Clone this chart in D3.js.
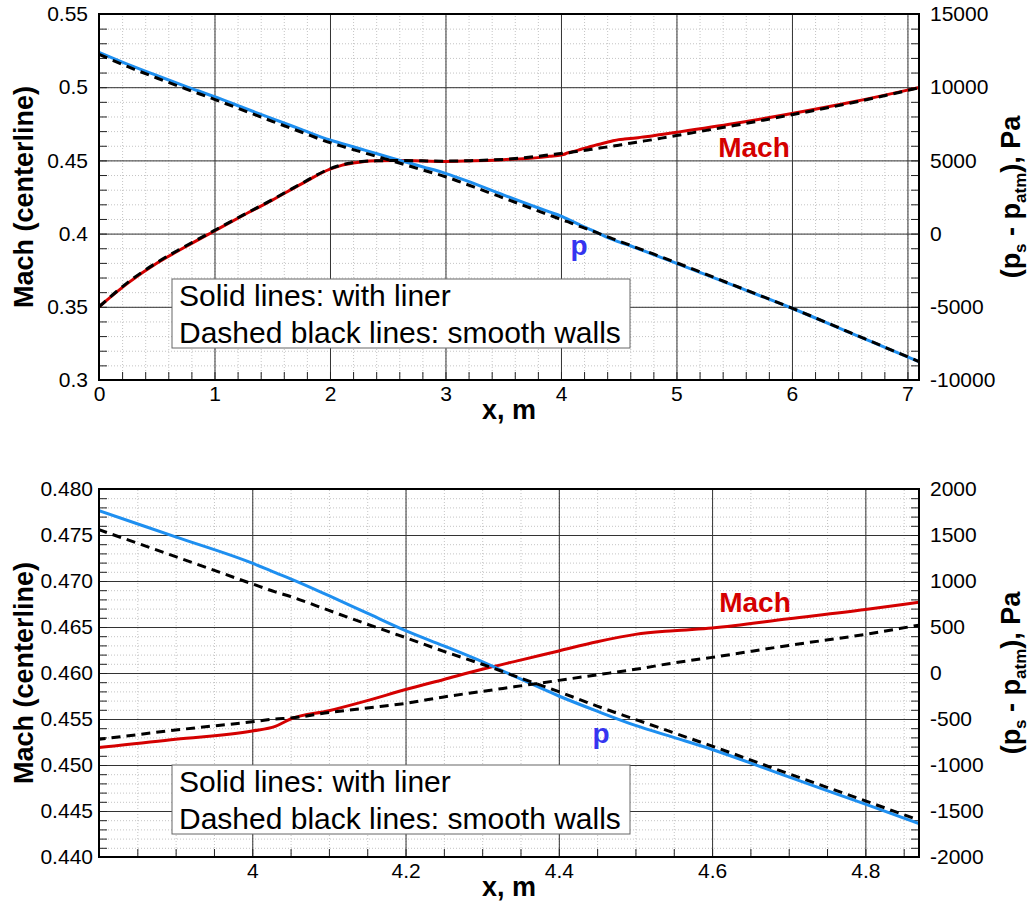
<!DOCTYPE html>
<html>
<head>
<meta charset="utf-8">
<script src="https://cdn.jsdelivr.net/npm/d3@7"></script>
<style>
  body { margin: 0; background: #fff; }
  svg { display: block; font-family: "Liberation Sans", Arial, sans-serif; }
</style>
</head>
<body>
<svg width="1033" height="903"></svg>
<script>
// x position along the duct, m
var xs = [0, 0.25, 0.5, 0.75, 1, 1.25, 1.5, 1.75, 2, 2.1, 2.2, 2.3, 2.4, 2.6, 2.8, 3, 3.25, 3.5,
  3.8, 3.9, 4.0, 4.03, 4.05, 4.1, 4.15, 4.2, 4.25, 4.3, 4.35, 4.4, 4.45, 4.5, 4.55, 4.6,
  4.7, 4.8, 4.87, 5, 5.5, 6, 6.5, 7, 7.1];

// centerline Mach, with liner (solid red) and smooth walls (dashed)
var machLiner = [0.350, 0.3662, 0.3797, 0.3910, 0.4018, 0.4125, 0.4229, 0.4338, 0.4440, 0.4466,
  0.4482, 0.4493, 0.4497, 0.4499, 0.4496, 0.4493, 0.4497, 0.4505, 0.4519, 0.4528, 0.4537, 0.4542,
  0.4550, 0.4559, 0.4570, 0.4582, 0.4593, 0.4604, 0.4614, 0.4624, 0.4634, 0.4642, 0.4646, 0.4649,
  0.4659, 0.4669, 0.4677, 0.4692, 0.4752, 0.4820, 0.4895, 0.4980, 0.4998];
var machSmooth = [0.350, 0.3667, 0.3802, 0.3915, 0.4022, 0.4128, 0.4232, 0.4341, 0.4443, 0.4469,
  0.4484, 0.4494, 0.4497, 0.4499, 0.4497, 0.4495, 0.4499, 0.4507, 0.4528, 0.4538, 0.4547, 0.4550,
  0.4551, 0.4557, 0.4562, 0.4567, 0.4574, 0.4580, 0.4586, 0.4592, 0.4598, 0.4604, 0.4611, 0.4617,
  0.4630, 0.4642, 0.4652, 0.4670, 0.4738, 0.4812, 0.4890, 0.4978, 0.4997];

// static pressure minus atmospheric, Pa
var pLiner = [12380, 11560, 10800, 10060, 9350, 8600, 7850, 7120, 6390, 6160, 5930, 5700, 5470,
  5020, 4570, 4117, 3410, 2650, 1764, 1480, 1194, 1090, 1023, 840, 650, 461, 295, 123, -65, -250,
  -415, -570, -700, -831, -1130, -1426, -1636, -2030, -3560, -5100, -6760, -8420, -8750];
var pSmooth = [12250, 11400, 10630, 9890, 9170, 8420, 7670, 6940, 6210, 5975, 5740, 5510, 5280,
  4820, 4350, 3885, 3170, 2440, 1557, 1265, 969, 882, 831, 680, 530, 385, 235, 95, -55, -203,
  -360, -505, -650, -795, -1095, -1390, -1600, -1990, -3540, -5090, -6750, -8410, -8740];

// tick labels
var topXTicks = [0, 1, 2, 3, 4, 5, 6, 7];
var topMachTicks = [0.3, 0.35, 0.4, 0.45, 0.5, 0.55];
var topPTicks = [-10000, -5000, 0, 5000, 10000, 15000];
var botXTicks = [4, 4.2, 4.4, 4.6, 4.8];
var botMachTicks = [0.440, 0.445, 0.450, 0.455, 0.460, 0.465, 0.470, 0.475, 0.480];
var botPTicks = [-2000, -1500, -1000, -500, 0, 500, 1000, 1500, 2000];

var legendLines = ["Solid lines: with liner", "Dashed black lines: smooth walls"];

var svg = d3.select("svg");
var left = 99, right = 919;

var panels = [
  { top: 14, bottom: 380, xDomain: [0, 7.1], machDomain: [0.3, 0.55], pDomain: [-10000, 15000],
    xTicks: topXTicks, machTicks: topMachTicks, pTicks: topPTicks,
    xMinorStep: 0.2, machMinorStep: 0.01, pMinorStep: 1000,
    machFmt: function(d) { return String(+d.toFixed(2)); }, leftPad: 11,
    legendTop: 279, machLabel: [754, 157], pLabel: [579, 255] },
  { top: 489, bottom: 857, xDomain: [3.8, 4.87], machDomain: [0.44, 0.48], pDomain: [-2000, 2000],
    xTicks: botXTicks, machTicks: botMachTicks, pTicks: botPTicks,
    xMinorStep: 0.05, machMinorStep: 0.001, pMinorStep: 100,
    machFmt: d3.format(".3f"), leftPad: 6,
    legendTop: 765, machLabel: [755, 612], pLabel: [601, 743] }
];

panels.forEach(drawPanel);

// evenly spaced grid positions inside a domain
function steps(domain, step) {
  var out = [];
  var start = Math.ceil(domain[0] / step - 1e-6);
  for (var k = start; k * step <= domain[1] + 1e-9; k++) out.push(+(k * step).toFixed(6));
  return out;
}

function drawPanel(p, idx) {
  var x = d3.scaleLinear().domain(p.xDomain).range([left, right]);
  var yM = d3.scaleLinear().domain(p.machDomain).range([p.bottom, p.top]);
  var yP = d3.scaleLinear().domain(p.pDomain).range([p.bottom, p.top]);
  var h = p.bottom - p.top, w = right - left;
  var g = svg.append("g");

  var xMinor = steps(p.xDomain, p.xMinorStep);
  var mMinor = steps(p.machDomain, p.machMinorStep);
  var pMinor = steps(p.pDomain, p.pMinorStep);

  // minor grid (dotted)
  g.append("g").attr("transform", "translate(0," + p.bottom + ")")
    .call(d3.axisBottom(x).tickValues(xMinor).tickSize(-h).tickFormat(""))
    .call(styleGrid, "#c4c4c4", "1,2");
  g.append("g").attr("transform", "translate(" + left + ",0)")
    .call(d3.axisLeft(yM).tickValues(mMinor).tickSize(-w).tickFormat(""))
    .call(styleGrid, "#c4c4c4", "1,2");

  // major grid
  g.append("g").attr("transform", "translate(0," + p.bottom + ")")
    .call(d3.axisBottom(x).tickValues(p.xTicks).tickSize(-h).tickFormat(""))
    .call(styleGrid, "#333", null);
  g.append("g").attr("transform", "translate(" + left + ",0)")
    .call(d3.axisLeft(yM).tickValues(p.machTicks).tickSize(-w).tickFormat(""))
    .call(styleGrid, "#333", null);

  // minor ticks inside the frame
  g.append("g").attr("transform", "translate(0," + p.bottom + ")")
    .call(d3.axisBottom(x).tickValues(xMinor).tickSize(-8).tickFormat(""))
    .call(styleGrid, "#222", null);
  g.append("g").attr("transform", "translate(" + left + ",0)")
    .call(d3.axisLeft(yM).tickValues(mMinor).tickSize(-8).tickFormat(""))
    .call(styleGrid, "#222", null);
  g.append("g").attr("transform", "translate(" + right + ",0)")
    .call(d3.axisRight(yP).tickValues(pMinor).tickSize(-8).tickFormat(""))
    .call(styleGrid, "#222", null);

  // lines
  var clipId = "clip" + idx;
  svg.append("clipPath").attr("id", clipId).append("rect")
    .attr("x", left).attr("y", p.top).attr("width", w).attr("height", h);
  var lines = g.append("g").attr("clip-path", "url(#" + clipId + ")");
  var lineM = d3.line().curve(d3.curveMonotoneX)
    .x(function(d, i) { return x(xs[i]); }).y(function(d) { return yM(d); });
  var lineP = d3.line().curve(d3.curveMonotoneX)
    .x(function(d, i) { return x(xs[i]); }).y(function(d) { return yP(d); });

  lines.append("path").attr("d", lineM(machLiner))
    .attr("fill", "none").attr("stroke", "#d40000").attr("stroke-width", 3);
  lines.append("path").attr("d", lineP(pLiner))
    .attr("fill", "none").attr("stroke", "#1e8ff0").attr("stroke-width", 3);
  lines.append("path").attr("d", lineM(machSmooth))
    .attr("fill", "none").attr("stroke", "#000").attr("stroke-width", 3).attr("stroke-dasharray", "9,6");
  lines.append("path").attr("d", lineP(pSmooth))
    .attr("fill", "none").attr("stroke", "#000").attr("stroke-width", 3).attr("stroke-dasharray", "9,6");

  // tick labels
  g.append("g").attr("transform", "translate(0," + p.bottom + ")")
    .call(d3.axisBottom(x).tickValues(p.xTicks).tickSize(0).tickPadding(6)
      .tickFormat(function(d) { return String(+d.toFixed(1)); }))
    .call(styleLabels);
  g.append("g").attr("transform", "translate(" + left + ",0)")
    .call(d3.axisLeft(yM).tickValues(p.machTicks).tickSize(0).tickPadding(p.leftPad).tickFormat(p.machFmt))
    .call(styleLabels);
  g.append("g").attr("transform", "translate(" + right + ",0)")
    .call(d3.axisRight(yP).tickValues(p.pTicks).tickSize(0).tickPadding(11)
      .tickFormat(function(d) { return String(d); }))
    .call(styleLabels);

  // frame
  g.append("rect").attr("x", left).attr("y", p.top).attr("width", w).attr("height", h)
    .attr("fill", "none").attr("stroke", "#000").attr("stroke-width", 2);

  // legend box
  g.append("rect").attr("x", 172).attr("y", p.legendTop).attr("width", 458).attr("height", 69)
    .attr("fill", "#fff").attr("stroke", "#666").attr("stroke-width", 1);
  g.selectAll(".leg").data(legendLines).enter().append("text")
    .attr("x", 179).attr("y", function(d, i) { return p.legendTop + 27 + i * 36.5; })
    .attr("font-size", 30).attr("fill", "#000").text(function(d) { return d; });

  // in-plot curve labels
  g.append("text").attr("x", p.machLabel[0]).attr("y", p.machLabel[1])
    .attr("text-anchor", "middle").attr("font-size", 28).attr("font-weight", "bold")
    .attr("fill", "#d40000").text("Mach");
  g.append("text").attr("x", p.pLabel[0]).attr("y", p.pLabel[1])
    .attr("text-anchor", "middle").attr("font-size", 28).attr("font-weight", "bold")
    .attr("fill", "#3535f0").text("p");

  // axis titles
  var cy = (p.top + p.bottom) / 2;
  g.append("text").attr("x", (left + right) / 2).attr("y", p.bottom + 39)
    .attr("text-anchor", "middle").attr("font-size", 27).attr("font-weight", "bold").text("x, m");
  g.append("text").attr("transform", "translate(33," + cy + ") rotate(-90)")
    .attr("text-anchor", "middle").attr("font-size", 27).attr("font-weight", "bold")
    .text("Mach (centerline)");
  var rt = g.append("text").attr("transform", "translate(1020," + cy + ") rotate(-90)")
    .attr("text-anchor", "middle").attr("font-size", 27).attr("font-weight", "bold");
  rt.append("tspan").text("(p");
  rt.append("tspan").attr("font-size", 17).attr("dy", 6).text("s");
  rt.append("tspan").attr("dy", -6).text(" - p");
  rt.append("tspan").attr("font-size", 17).attr("dy", 6).text("atm");
  rt.append("tspan").attr("dy", -6).text("), Pa");
}

function styleGrid(sel, color, dash) {
  sel.select(".domain").remove();
  sel.selectAll(".tick line").attr("stroke", color).attr("stroke-width", 1)
    .attr("stroke-dasharray", dash);
}

function styleLabels(sel) {
  sel.select(".domain").remove();
  sel.selectAll(".tick text").attr("font-size", 21).attr("fill", "#000")
    .attr("font-family", "\"Liberation Sans\", Arial, sans-serif");
}
</script>
</body>
</html>
